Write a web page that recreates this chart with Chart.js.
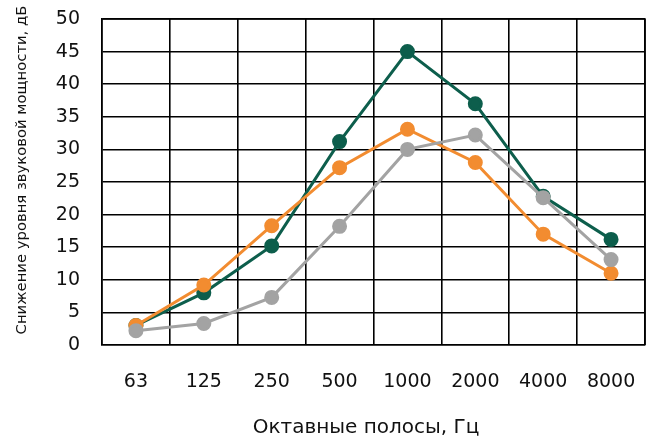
<!DOCTYPE html>
<html>
<head>
<meta charset="utf-8">
<script src="https://cdn.jsdelivr.net/npm/chart.js@4/dist/chart.umd.min.js"></script>
<style>
html,body{margin:0;padding:0;background:#fff;}
#wrap{width:654px;height:439px;position:relative;}
</style>
</head>
<body>
<div id="wrap"><canvas id="c" width="654" height="439"></canvas></div>
<script>
const categories = ['63','125','250','500','1000','2000','4000','8000'];
const seriesGreen = [3, 8, 15.2, 31.2, 45, 37, 22.8, 16.2];
const seriesOrange = [3, 9.2, 18.3, 27.2, 33.1, 28, 17, 11];
const seriesGray = [2.2, 3.3, 7.3, 18.2, 30, 32.2, 22.6, 13.1];
const yTicks = [0, 5, 10, 15, 20, 25, 30, 35, 40, 45, 50];
const xTitle = 'Октавные полосы, Гц';
const yTitle = 'Снижение уровня звуковой мощности, дБ';

const FONT = "'DejaVu Sans', Verdana, sans-serif";
function ds(data, color){
  return {data, borderColor: color, backgroundColor: color, pointBackgroundColor: color,
    pointBorderColor: color, borderWidth: 3, pointRadius: 6, pointHoverRadius: 6, tension: 0};
}
new Chart(document.getElementById('c'), {
  type: 'line',
  data: {
    labels: categories,
    datasets: [ds(seriesGray, '#a3a3a3'), ds(seriesOrange, '#f28c30'), ds(seriesGreen, '#0d5e4c')]
  },
  options: {
    responsive: false,
    animation: false,
    devicePixelRatio: 1,
    layout: {padding: {left: 0, right: -1, top: 19, bottom: 0}},
    plugins: {legend: {display: false}, tooltip: {enabled: false}},
    scales: {
      x: {
        type: 'category',
        offset: true,
        grid: {offset: true, color: '#000', lineWidth: 1.6, drawTicks: false},
        border: {color: '#000', width: 1.6},
        ticks: {color: '#111', font: {family: FONT, size: 19}, padding: 26, maxRotation: 0, autoSkip: false},
        title: {display: false, text: xTitle},
        afterFit: s => { s.height = 94; s.paddingLeft = 0; s.paddingRight = 0; }
      },
      y: {
        min: 0, max: 50,
        afterBuildTicks: s => { s.ticks = yTicks.map(v => ({value: v})); },
        grid: {color: '#000', lineWidth: 1.6, drawTicks: false},
        border: {color: '#000', width: 1.6},
        ticks: {color: '#111', font: {family: FONT, size: 19}, padding: 22},
        title: {display: false, text: yTitle},
        afterFit: s => { s.width = 102; s.paddingTop = 0; s.paddingBottom = 0; }
      }
    }
  },
  plugins: [{
    id: 'frameAndTitles',
    afterDraw(chart){
      const a = chart.chartArea, c = chart.ctx;
      c.save(); c.strokeStyle = '#000'; c.lineWidth = 1.6;
      c.beginPath(); c.moveTo(a.left, a.top); c.lineTo(a.right, a.top); c.lineTo(a.right, a.bottom); c.stroke();
      c.fillStyle = '#111';
      c.textAlign = 'center'; c.textBaseline = 'middle';
      c.font = "20px " + FONT;
      c.fillText(chart.options.scales.x.title.text, 366, 428);
      c.translate(22, 170); c.rotate(-Math.PI / 2);
      c.font = "14.8px " + FONT;
      c.fillText(chart.options.scales.y.title.text, 0, 0);
      c.restore();
    }
  }]
});
</script>
</body>
</html>
